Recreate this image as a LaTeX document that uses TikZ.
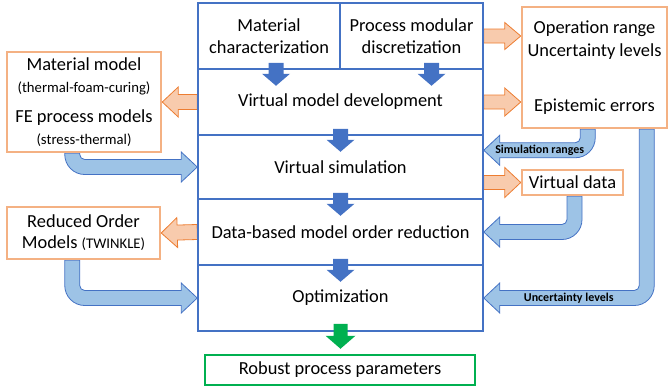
\documentclass[tikz,border=0pt]{standalone}
\usepackage{fontspec}
\setmainfont{Carlito}
\usetikzlibrary{calc,backgrounds}
\definecolor{MainBlue}{HTML}{4472C4}
\definecolor{LightBlue}{HTML}{9DC3E6}
\definecolor{OrangeLine}{HTML}{F4B183}
\definecolor{OrangeFill}{HTML}{F8CBAD}
\definecolor{OrangeEdge}{HTML}{ED7D31}
\definecolor{RobustGreen}{HTML}{00B050}
\newcommand\bigtext{\fontsize{18.4}{22}\selectfont}
\newcommand\smalltext{\fontsize{14.7}{22}\selectfont}
% straight block arrow: [style]{shaft half}{head half}{head length}{from}{tip}
\newcommand\blockarrow[6][]{%
  \coordinate (hb) at ($(#6)!#4!(#5)$);
  \path[#1] ($(#5)!#2!90:(#6)$) -- ($(hb)!#2!90:(#6)$) -- ($(hb)!#3!90:(#6)$) -- (#6)
    -- ($(hb)!#3!-90:(#6)$) -- ($(hb)!#2!-90:(#6)$) -- ($(#5)!#2!-90:(#6)$) -- cycle;}
% bent block arrows: down from #2, then sideways to the tip #3
\newcommand\bentright[3][]{%
  \path[#1] let \p1=(#2), \p2=(#3) in
    (\x1+7.5pt,\y1) -- (\x1+7.5pt,\y2+12.5pt) arc[start angle=180,end angle=270,radius=5pt]
    -- (\x2-16pt,\y2+7.5pt) -- (\x2-16pt,\y2+15pt) -- (\x2,\y2) -- (\x2-16pt,\y2-15pt)
    -- (\x2-16pt,\y2-7.5pt) -- (\x1+12.5pt,\y2-7.5pt) arc[start angle=270,end angle=180,radius=20pt]
    -- (\x1-7.5pt,\y1) -- cycle;}
\newcommand\bentleft[3][]{%
  \path[#1] let \p1=(#2), \p2=(#3) in
    (\x1-7.5pt,\y1) -- (\x1-7.5pt,\y2+12.5pt) arc[start angle=0,end angle=-90,radius=5pt]
    -- (\x2+16pt,\y2+7.5pt) -- (\x2+16pt,\y2+15pt) -- (\x2,\y2) -- (\x2+16pt,\y2-15pt)
    -- (\x2+16pt,\y2-7.5pt) -- (\x1-12.5pt,\y2-7.5pt) arc[start angle=-90,end angle=0,radius=20pt]
    -- (\x1+7.5pt,\y1) -- cycle;}
\tikzset{
  row/.style={draw=MainBlue, line width=1.5pt, minimum width=285pt, minimum height=66pt,
    inner sep=0pt, align=center, font=\bigtext},
  obox/.style={draw=OrangeLine, line width=2.5pt, fill=white, inner sep=0pt, align=center, font=\bigtext},
  gbox/.style={draw=RobustGreen, line width=2.5pt, minimum width=270pt, minimum height=30pt,
    inner sep=0pt, font=\bigtext},
  darr/.style={fill=MainBlue},
  garr/.style={fill=RobustGreen},
  oarr/.style={fill=OrangeFill, draw=OrangeEdge, line width=0.8pt, line join=miter},
  barr/.style={fill=LightBlue, draw=MainBlue, line width=0.8pt, line join=miter},
  lbl/.style={font=\fontsize{12}{14}\selectfont\bfseries, inner sep=0pt}
}
\begin{document}
\begin{tikzpicture}[x=1pt, y=-1pt]
\useasboundingbox (0,0) rectangle (669,389);
% main column
\node[row, minimum width=142pt] (mchar) at (269,36) {Material\\characterization};
\node[row, minimum width=143pt] (pmod) at (411.5,36) {Process modular\\discretization};
\node[row] (vmd) at (340.5,102) {Virtual model development};
\node[row, minimum height=64pt] (vsim) at (340.5,167) {Virtual simulation};
\node[row] (dbmor) at (340.5,232) {Data-based model order reduction};
\node[row] (opt) at (340.5,298) {Optimization};
\node[gbox] (robust) at (340,370) {Robust process parameters};

% side boxes
\node[obox, minimum width=154pt, minimum height=100pt] (matmod) at (84,102)
  {Material model\\{\smalltext (thermal-foam-curing)}\\[8pt]FE process models\\{\smalltext (stress-thermal)}};
\node[obox, minimum width=153pt, minimum height=52pt] (rom) at (83.5,233)
  {Reduced Order\\[-1pt]Models {\smalltext (TWINKLE)}};
\node[obox, minimum width=145pt, minimum height=121pt] (ops) at (594.5,67.5)
  {Operation range\\[1pt]Uncertainty levels\\[33pt]Epistemic errors};
\node[obox, minimum width=101pt, minimum height=25pt] (vdata) at (572.5,182.5) {Virtual data};

% down arrows through the column
\foreach \n/\dx in {mchar/7, pmod/20, vmd/0, vsim/0, dbmor/0} {
  \coordinate (\n-top) at ($(\n.south)+(\dx,-7)$);
  \coordinate (\n-tip) at ($(\n.south)+(\dx,16)$);
  \blockarrow[darr]{7.5pt}{14pt}{12pt}{\n-top}{\n-tip}
}
\coordinate (opt-top) at ($(opt.south)+(0,-8)$);
\coordinate (opt-tip) at ($(opt.south)+(0,17)$);
\blockarrow[garr]{7pt}{15pt}{13pt}{opt-top}{opt-tip}

% side arrows
\coordinate (ops-a) at (ops.west |- pmod.east);
\coordinate (ops-b) at (ops.west |- vmd.east);
\coordinate (vd-in) at (vsim.east |- vdata.west);
\coordinate (mm-out) at ($(matmod.south west)+(66.5,0)$);
\coordinate (rom-out) at ($(rom.south west)+(66.5,0)$);
\coordinate (ops-sim) at ($(ops.south west)+(67,0)$);
\coordinate (ops-unc) at ($(ops.south west)+(126,0)$);
\coordinate (vd-out) at ($(vdata.south)+(2,0)$);
\coordinate (sim-in) at ($(vsim.north east)+(0,16)$);
\begin{scope}[on background layer]
\blockarrow[oarr]{7.5pt}{15pt}{16pt}{vmd.west}{matmod.east}
\blockarrow[oarr]{7.5pt}{15pt}{16pt}{dbmor.west}{rom.east}
\blockarrow[oarr]{7pt}{13.5pt}{16pt}{pmod.east}{ops-a}
\blockarrow[oarr]{7pt}{14pt}{16pt}{vmd.east}{ops-b}
\blockarrow[oarr]{7pt}{15pt}{16pt}{vd-in}{vdata.west}
\bentright[barr]{mm-out}{vsim.west}
\bentright[barr]{rom-out}{opt.west}
\bentleft[barr]{ops-sim}{sim-in}
\bentleft[barr]{vd-out}{dbmor.east}
\bentleft[barr]{ops-unc}{opt.east}
\end{scope}
\node[lbl] (simlbl) at ($(sim-in)+(56,0)$) {Simulation ranges};
\node[lbl] (unclbl) at ($(opt.east)+(85,0)$) {Uncertainty levels};
\end{tikzpicture}
\end{document}
